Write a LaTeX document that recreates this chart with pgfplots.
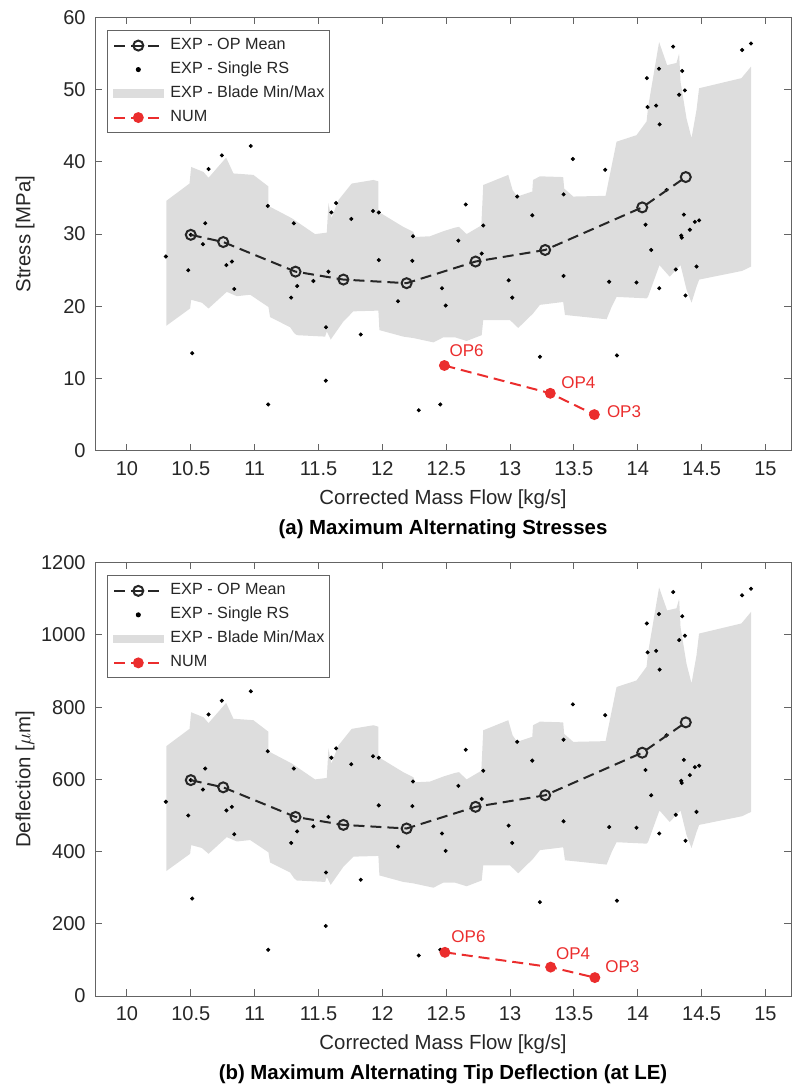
\documentclass[border=0pt]{standalone}
\usepackage{fontspec}
\setmainfont{Liberation Sans}
\usepackage{pgfplots}
\pgfplotsset{compat=1.18}
\usepackage{pgfplotstable}

\definecolor{bandgray}{RGB}{221,221,221}
\definecolor{numred}{RGB}{235,45,45}
\definecolor{axisgray}{RGB}{100,100,100}
\definecolor{txt}{RGB}{38,38,38}

%% ---------- (a) stresses [MPa] ----------
\pgfplotstableread{
x y
10.308 34.6
10.490 37.0
10.503 39.3
10.600 38.6
10.639 37.8
10.777 40.6
10.834 38.4
10.990 38.2
11.108 36.6
11.108 33.9
11.291 32.2
11.473 30.0
11.565 30.2
11.578 34.3
11.601 32.2
11.656 34.7
11.760 37.0
11.930 37.5
11.969 37.3
11.969 33.1
12.164 31.0
12.243 30.3
12.256 29.6
12.373 29.7
12.478 30.4
12.569 30.9
12.600 31.0
12.660 30.0
12.775 31.2
12.790 36.8
12.986 38.2
13.020 36.1
13.056 35.2
13.174 35.9
13.180 37.5
13.234 38.0
13.416 37.9
13.424 36.3
13.495 35.2
13.748 35.3
13.834 42.8
13.990 43.7
14.069 45.6
14.081 47.6
14.167 56.6
14.230 53.4
14.303 53.7
14.324 55.0
14.335 51.1
14.382 46.0
14.421 43.3
14.460 47.2
14.480 50.2
14.812 51.6
14.887 53.2
14.887 25.5
14.817 24.9
14.481 23.7
14.460 22.7
14.421 20.5
14.382 22.3
14.335 25.7
14.250 24.1
14.170 25.7
14.080 21.3
14.069 21.1
13.834 21.3
13.795 19.9
13.756 18.2
13.430 18.8
13.416 20.6
13.234 20.2
13.180 19.0
13.064 17.0
12.999 18.1
12.790 18.1
12.778 16.0
12.660 15.2
12.569 15.7
12.477 15.7
12.400 15.0
12.243 15.6
12.164 15.8
11.977 16.7
11.969 19.4
11.773 19.3
11.695 17.9
11.596 15.4
11.565 16.5
11.552 15.8
11.330 16.0
11.309 16.3
11.278 17.1
11.121 18.5
11.108 19.9
10.965 21.6
10.861 21.4
10.782 22.0
10.639 19.7
10.587 20.5
10.503 20.9
10.495 19.7
10.308 17.3
}\bandA

\pgfplotstableread{
x y
10.305 26.9
10.480 25.0
10.500 29.9
10.511 13.5
10.595 28.6
10.613 31.5
10.639 39.0
10.743 40.9
10.779 25.7
10.822 26.2
10.840 22.4
10.970 42.2
11.103 33.9
11.106 6.4
11.286 21.2
11.307 31.5
11.333 22.8
11.460 23.5
11.557 9.7
11.559 17.1
11.578 24.8
11.601 33.0
11.638 34.3
11.757 32.1
11.831 16.1
11.927 33.2
11.972 33.0
11.972 26.4
12.123 20.7
12.235 26.3
12.240 29.7
12.285 5.6
12.454 6.4
12.467 22.5
12.496 20.1
12.595 29.1
12.653 34.1
12.778 27.3
12.790 31.2
12.989 23.6
13.017 21.2
13.056 35.2
13.174 32.6
13.234 13.0
13.419 35.5
13.419 24.2
13.492 40.4
13.745 38.9
13.776 23.4
13.837 13.2
13.990 23.3
14.061 31.3
14.071 51.6
14.077 47.6
14.105 27.8
14.144 47.8
14.166 52.9
14.168 22.5
14.171 45.2
14.225 36.1
14.277 55.96
14.298 25.1
14.324 49.3
14.340 29.8
14.345 29.5
14.348 52.6
14.361 32.7
14.369 49.9
14.374 21.5
14.408 30.6
14.447 31.7
14.481 31.9
14.460 25.5
14.817 55.5
14.887 56.4
}\dotsA

%% ---------- (b) tip deflection [um] ----------
\pgfplotstableread{
x y
10.308 692
10.490 740
10.503 786
10.600 772
10.639 756
10.777 812
10.834 768
10.990 764
11.108 732
11.108 678
11.291 644
11.473 600
11.565 604
11.578 686
11.601 644
11.656 694
11.760 740
11.930 750
11.969 746
11.969 662
12.164 620
12.243 606
12.256 592
12.373 594
12.478 608
12.569 618
12.600 620
12.660 600
12.775 624
12.790 736
12.986 764
13.020 722
13.056 704
13.174 718
13.180 750
13.234 760
13.416 758
13.424 726
13.495 704
13.748 706
13.834 856
13.990 874
14.069 912
14.081 952
14.167 1132
14.230 1068
14.303 1074
14.324 1100
14.335 1022
14.382 920
14.421 866
14.460 944
14.480 1004
14.812 1032
14.887 1064
14.887 510
14.817 498
14.481 474
14.460 454
14.421 410
14.382 446
14.335 514
14.250 482
14.170 514
14.080 426
14.069 422
13.834 426
13.795 398
13.756 364
13.430 376
13.416 412
13.234 404
13.180 380
13.064 340
12.999 362
12.790 362
12.778 320
12.660 304
12.569 314
12.477 314
12.400 300
12.243 312
12.164 316
11.977 334
11.969 388
11.773 386
11.695 358
11.596 308
11.565 330
11.552 316
11.330 320
11.309 326
11.278 342
11.121 370
11.108 398
10.965 432
10.861 428
10.782 440
10.639 394
10.587 410
10.503 418
10.495 394
10.308 346
}\bandB

\pgfplotstableread{
x y
10.305 538
10.480 500
10.500 598
10.511 270
10.595 572
10.613 630
10.639 780
10.743 818
10.779 514
10.822 524
10.840 448
10.970 844
11.103 678
11.106 128
11.286 424
11.307 630
11.333 456
11.460 470
11.557 194
11.559 342
11.578 496
11.601 660
11.638 686
11.757 642
11.831 322
11.927 664
11.972 660
11.972 528
12.123 414
12.235 526
12.240 594
12.285 112
12.454 128
12.467 450
12.496 402
12.595 582
12.653 682
12.778 546
12.790 624
12.989 472
13.017 424
13.056 704
13.174 652
13.234 260
13.419 710
13.419 484
13.492 808
13.745 778
13.776 468
13.837 264
13.990 466
14.061 626
14.071 1032
14.077 952
14.105 556
14.144 956
14.166 1058
14.168 450
14.171 904
14.225 722
14.277 1119
14.298 502
14.324 986
14.340 596
14.345 590
14.348 1052
14.361 654
14.369 998
14.374 430
14.408 612
14.447 634
14.481 638
14.460 510
14.817 1110
14.887 1128
}\dotsB

\tikzset{
  oplab/.style={anchor=west, inner sep=0pt, text=numred, font=\fontsize{8.5}{10}\selectfont},
  caption/.style={anchor=base, inner sep=0pt, yshift=-41.7pt,
    font=\bfseries\fontsize{10.2}{12}\selectfont},
}

\pgfplotsset{
  panel/.style={
    scale only axis, width=348pt, height=216.6pt,
    xmin=9.75, xmax=15.2, ymin=0,
    xtick={10,10.5,11,11.5,12,12.5,13,13.5,14,14.5,15},
    tick align=inside, major tick length=3.3pt,
    axis line style={draw=axisgray, line width=0.5pt},
    tick style={draw=axisgray, line width=0.5pt},
    tick label style={font=\fontsize{10}{12}\selectfont, text=txt},
    /pgf/number format/assume math mode=true,
    /pgf/number format/1000 sep={},
    scaled ticks=false,
    xticklabel style={inner sep=0pt, yshift=-5.3pt},
    yticklabel style={inner sep=0pt, xshift=-4.5pt},
    every axis x label/.style={at={(axis description cs:0.5,0)}, anchor=base,
      yshift=-26.8pt, inner sep=0pt, font=\fontsize{10.2}{12}\selectfont, text=txt},
    every axis y label/.style={at={(axis description cs:-0.1006,0.5)}, rotate=90,
      anchor=center, inner sep=0pt, font=\fontsize{10.2}{12}\selectfont, text=txt},
    clip mode=individual,
    legend style={at={(rel axis cs:0.0177,0.971)}, anchor=north west,
      draw=axisgray, line width=0.5pt, fill=white,
      inner xsep=2.5pt, inner ysep=1.5pt, row sep=0pt,
      font=\fontsize{8.1}{9.7}\selectfont, text=txt,
      nodes={inner sep=0pt, text height=8pt, text depth=4pt},
      /tikz/every odd column/.append style={column sep=3.3pt}},
    legend cell align=left,
    legend image code/.code={\draw[mark repeat=2,mark phase=2,##1]
      plot coordinates {(0pt,0pt) (12pt,0pt) (24pt,0pt)};},
  },
  meanline/.style={color=txt, line width=1pt, dash pattern=on 5.5pt off 3pt,
    mark=o, mark size=2.5pt, mark options={solid, line width=1pt}},
  rsdots/.style={only marks, mark=*, mark size=0.8pt, color=black},
  numline/.style={color=numred, line width=1pt, dash pattern=on 5.5pt off 3pt,
    mark=*, mark size=2.2pt, mark options={solid}},
}

\begin{document}
\begin{tikzpicture}
\useasboundingbox (0,0) rectangle (396pt,543pt);

%% (a) stresses
\begin{axis}[panel, at={(47.5pt,317.65pt)}, anchor=south west,
  ymax=60, ytick={0,10,20,30,40,50,60},
  xlabel={Corrected Mass Flow [kg/s]}, ylabel={Stress [MPa]}]
\addplot[fill=bandgray, draw=none, forget plot] table {\bandA};
\addplot[rsdots, forget plot] table {\dotsA};
\addplot[meanline, forget plot] coordinates {
  (10.500,29.9) (10.754,28.9) (11.320,24.8) (11.695,23.7) (12.190,23.2)
  (12.730,26.2) (13.275,27.8) (14.035,33.7) (14.376,37.9)};
\addplot[numline, forget plot] coordinates {
  (12.486,11.8) (13.315,7.95) (13.660,5.0)};
\node[oplab] at (axis cs:12.524,13.8) {OP6};
\node[oplab] at (axis cs:13.398,9.4) {OP4};
\node[oplab] at (axis cs:13.756,5.4) {OP3};
\addlegendimage{meanline}
\addlegendentry{EXP - OP Mean}
\addlegendimage{only marks, mark=*, mark size=1pt, black}
\addlegendentry{EXP - Single RS}
\addlegendimage{legend image code/.code={\fill[bandgray] (-0.5pt,-1.8pt) rectangle (24.5pt,1.8pt);}}
\addlegendentry{EXP - Blade Min/Max}
\addlegendimage{numline}
\addlegendentry{NUM}
\node[caption] at (rel axis cs:0.5,0) {(a) Maximum Alternating Stresses};
\end{axis}

%% (b) tip deflection
\begin{axis}[panel, at={(47.5pt,45pt)}, anchor=south west,
  ymax=1200, ytick={0,200,400,600,800,1000,1200},
  xlabel={Corrected Mass Flow [kg/s]}, ylabel={Deflection [$\mu$m]}]
\addplot[fill=bandgray, draw=none, forget plot] table {\bandB};
\addplot[rsdots, forget plot] table {\dotsB};
\addplot[meanline, forget plot] coordinates {
  (10.500,598) (10.754,578) (11.320,496) (11.695,474) (12.190,464)
  (12.730,524) (13.275,556) (14.035,674) (14.376,758)};
\addplot[numline, forget plot] coordinates {
  (12.490,121) (13.318,80) (13.664,51)};
\node[oplab] at (axis cs:12.538,164) {OP6};
\node[oplab] at (axis cs:13.357,116) {OP4};
\node[oplab] at (axis cs:13.743,81) {OP3};
\addlegendimage{meanline}
\addlegendentry{EXP - OP Mean}
\addlegendimage{only marks, mark=*, mark size=1pt, black}
\addlegendentry{EXP - Single RS}
\addlegendimage{legend image code/.code={\fill[bandgray] (-0.5pt,-1.8pt) rectangle (24.5pt,1.8pt);}}
\addlegendentry{EXP - Blade Min/Max}
\addlegendimage{numline}
\addlegendentry{NUM}
\node[caption] at (rel axis cs:0.5,0) {(b) Maximum Alternating Tip Deflection (at LE)};
\end{axis}
\end{tikzpicture}
\end{document}
